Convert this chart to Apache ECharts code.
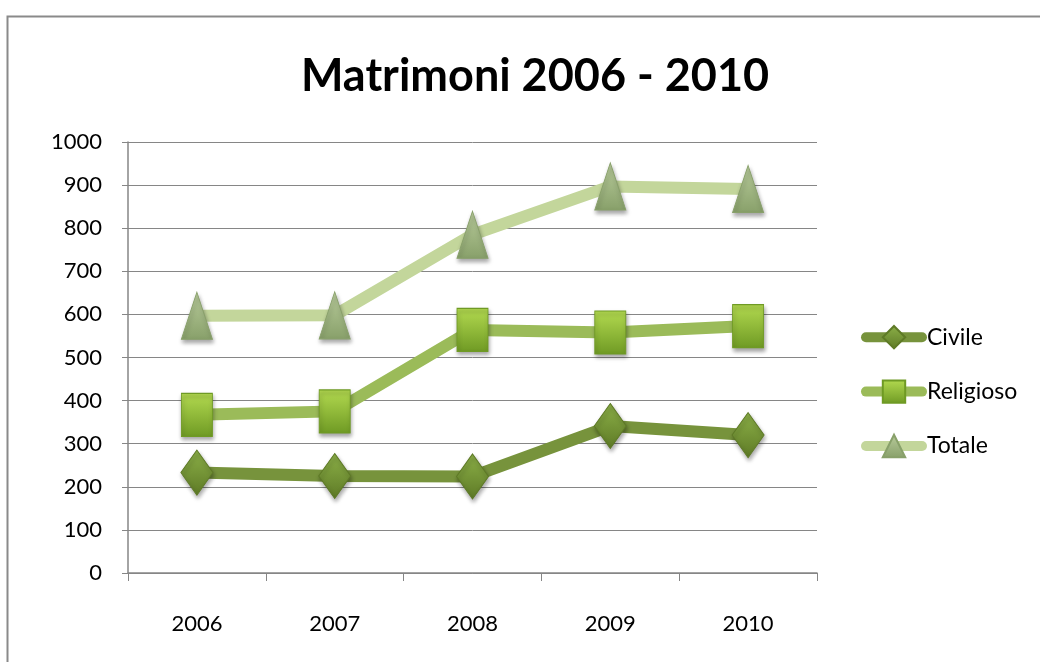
<!DOCTYPE html>
<html><head><meta charset="utf-8">
<script src="https://cdn.jsdelivr.net/npm/echarts@6/dist/echarts.min.js"></script>
<style>html,body{margin:0;padding:0;background:#fff}#c{width:1040px;height:662px}</style>
</head><body><div id="c"></div>
<script>
const years = ['2006','2007','2008','2009','2010'];
const civile = [233, 225, 224, 341, 320];
const religioso = [367, 375, 564, 558, 573];
const totale = [597, 598, 785, 897, 891];
const yTicks = {min: 0, max: 1000, interval: 100};

const FONT = 'Lato, "Open Sans", sans-serif';
function grad(top, bottom) {
  return new echarts.graphic.LinearGradient(0, 0, 0, 1, [
    {offset: 0, color: top}, {offset: 1, color: bottom}
  ]);
}
const chart = echarts.init(document.getElementById('c'), null, {renderer: 'canvas'});
const mk = (name, data, lineColor, symbol, size, mTop, mBot) => ({
  name, type: 'line', data, symbol, symbolSize: size,
  lineStyle: {color: lineColor, width: 12, cap: 'round'},
  itemStyle: {color: grad(mTop, mBot), borderColor: mBot, borderWidth: 1,
    shadowColor: 'rgba(0,0,0,0.35)', shadowBlur: 4, shadowOffsetX: 1, shadowOffsetY: 3},
  emphasis: {disabled: true},
  z: 3
});
chart.setOption({
  animation: false,
  textStyle: {fontFamily: FONT},
  title: {
    text: 'Matrimoni 2006 - 2010', left: 530, top: 49, textAlign: 'center',
    textStyle: {fontFamily: FONT, fontSize: 45, fontWeight: 'bold', color: '#000'}
  },
  graphic: [{
    type: 'rect', left: 5, top: 14, shape: {x: 0, y: 0, width: 1100, height: 700},
    style: {fill: 'none', stroke: '#8a8a8a', lineWidth: 2}, z: -1
  }],
  grid: {left: 128, right: 223, top: 142, bottom: 89, containLabel: false},
  legend: {
    orient: 'vertical', left: 856, top: 320, itemGap: 30,
    itemWidth: 56, itemHeight: 28,
    lineStyle: {width: 10, cap: 'round'},
    textStyle: {fontFamily: FONT, fontSize: 23, color: '#000', padding: [0, 0, 0, 0]},
    data: ['Civile', 'Religioso', 'Totale']
  },
  xAxis: {
    type: 'category', data: years, boundaryGap: true,
    axisLine: {lineStyle: {color: '#868686', width: 1.5}},
    axisTick: {show: true, length: 8, lineStyle: {color: '#868686'}},
    axisLabel: {fontFamily: FONT, fontSize: 22, color: '#000', margin: 40}
  },
  yAxis: {
    type: 'value', min: yTicks.min, max: yTicks.max, interval: yTicks.interval,
    axisLine: {show: true, lineStyle: {color: '#868686', width: 1.5}},
    axisTick: {show: true, length: 6, lineStyle: {color: '#868686'}},
    splitLine: {lineStyle: {color: '#868686', width: 1}},
    axisLabel: {fontFamily: FONT, fontSize: 22, color: '#000', margin: 26,
      formatter: v => String(v)}
  },
  series: [
    mk('Civile', civile, '#77933C', 'diamond', [32, 45], '#8cb048', '#5e7a26'),
    mk('Religioso', religioso, '#9BBB59', 'rect', [31, 43], '#b3da50', '#6f9a24'),
    mk('Totale', totale, '#C3D69B', 'triangle', [31, 47], '#b9cc9c', '#88a06a')
  ]
});
</script></body></html>
